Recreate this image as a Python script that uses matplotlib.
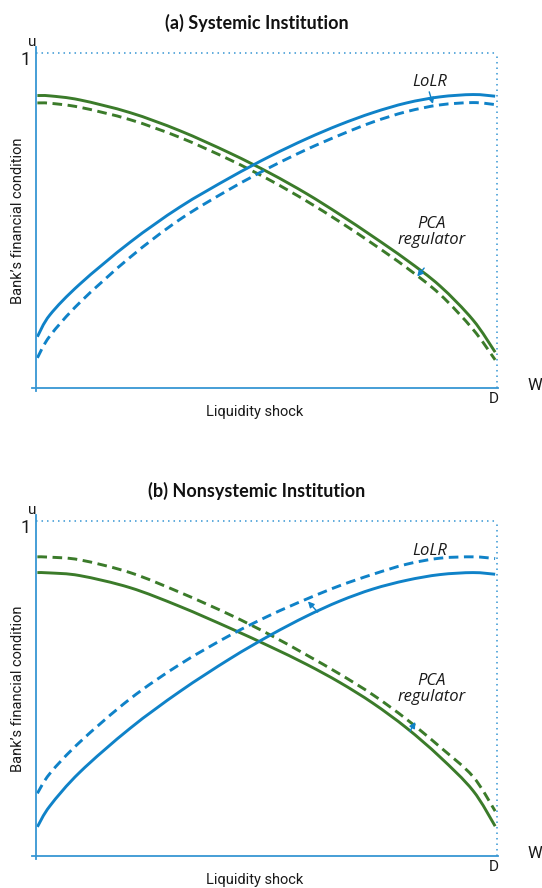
import matplotlib
matplotlib.use("Agg")
import matplotlib.pyplot as plt
from matplotlib.path import Path
from matplotlib.patches import PathPatch

# ---------------- data ----------------
x_pts = [0.003, 0.03, 0.095, 0.204, 0.312, 0.421, 0.508, 0.587, 0.659, 0.731, 0.804, 0.876, 0.948, 0.996]

# (a) Systemic Institution
a_pca_solid  = [0.873, 0.872, 0.860, 0.822, 0.768, 0.701, 0.641, 0.580, 0.518, 0.452, 0.382, 0.305, 0.203, 0.107]
a_pca_dash   = [0.851, 0.850, 0.838, 0.801, 0.748, 0.681, 0.620, 0.558, 0.496, 0.430, 0.359, 0.280, 0.175, 0.084]
a_lolr_solid = [0.153, 0.218, 0.310, 0.435, 0.540, 0.628, 0.692, 0.744, 0.786, 0.822, 0.851, 0.869, 0.876, 0.871]
a_lolr_dash  = [0.090, 0.155, 0.255, 0.390, 0.503, 0.594, 0.659, 0.712, 0.755, 0.794, 0.825, 0.845, 0.852, 0.846]

# (b) Nonsystemic Institution
b_pca_solid  = [0.846, 0.845, 0.837, 0.801, 0.745, 0.680, 0.625, 0.572, 0.518, 0.456, 0.382, 0.296, 0.195, 0.089]
b_pca_dash   = [0.893, 0.892, 0.884, 0.846, 0.787, 0.720, 0.660, 0.600, 0.543, 0.481, 0.408, 0.326, 0.237, 0.134]
b_lolr_solid = [0.087, 0.149, 0.250, 0.381, 0.491, 0.589, 0.659, 0.716, 0.761, 0.797, 0.823, 0.840, 0.846, 0.841]
b_lolr_dash  = [0.187, 0.246, 0.340, 0.469, 0.572, 0.659, 0.719, 0.767, 0.807, 0.841, 0.871, 0.889, 0.893, 0.888]

titles = ["(a) Systemic Institution", "(b) Nonsystemic Institution"]
x_label = "Liquidity shock"
y_label = "Bank\u2019s financial condition"

BLUE = "#0f82c8"
GREEN = "#3b7b2a"
AXBLUE = "#3796d3"
LBL = ["Roboto", "DejaVu Sans"]

W, H = 542, 888
fig = plt.figure(figsize=(W / 100, H / 100), dpi=100)


def make_axes(px_left, px_right, py_top, py_bottom):
    return fig.add_axes([px_left / W, 1 - py_bottom / H,
                         (px_right - px_left) / W, (py_bottom - py_top) / H])


def smooth_curve(ax, xs, ys, **kw):
    """Draw a smooth line (cubic Bezier segments) through the read points."""
    pts = list(zip(xs, ys))
    n = len(pts)
    verts = [pts[0]]
    codes = [Path.MOVETO]
    for i in range(n - 1):
        p0 = pts[i - 1] if i > 0 else pts[i]
        p1 = pts[i]
        p2 = pts[i + 1]
        p3 = pts[i + 2] if i + 2 < n else pts[i + 1]
        c1 = (p1[0] + (p2[0] - p0[0]) / 6, p1[1] + (p2[1] - p0[1]) / 6)
        c2 = (p2[0] - (p3[0] - p1[0]) / 6, p2[1] - (p3[1] - p1[1]) / 6)
        verts += [c1, c2, p2]
        codes += [Path.CURVE4] * 3
    patch = PathPatch(Path(verts, codes), facecolor="none", transform=ax.transData,
                      clip_on=False, **kw)
    ax.add_patch(patch)


panels = [
    dict(ax=make_axes(36, 497, 53, 388), title=titles[0],
         pca=(a_pca_solid, a_pca_dash), lolr=(a_lolr_solid, a_lolr_dash),
         lolr_arrow=((0.853, 0.884), (0.861, 0.848)),
         pca_arrow=((0.842, 0.358), (0.827, 0.333)),
         lolr_text=(0.855, 0.912), pca_text=(0.859, 0.466)),
    dict(ax=make_axes(36, 497, 521, 856), title=titles[1],
         pca=(b_pca_solid, b_pca_dash), lolr=(b_lolr_solid, b_lolr_dash),
         lolr_arrow=((0.611, 0.728), (0.590, 0.760)),
         pca_arrow=((0.811, 0.372), (0.823, 0.400)),
         lolr_text=(0.855, 0.909), pca_text=(0.859, 0.498)),
]

for p in panels:
    ax = p["ax"]
    ax.set_xlim(0, 1)
    ax.set_ylim(0, 1)
    ax.axis("off")

    # axes lines
    ax.plot([0, 0], [-0.008, 1.018], color=AXBLUE, lw=1.3, clip_on=False)
    ax.plot([-0.008, 1.003], [0, 0], color=AXBLUE, lw=1.3, clip_on=False)
    # dotted guides
    ax.plot([0, 1.0], [1, 1], color=AXBLUE, lw=1.1, ls=(0, (1, 2.6)), clip_on=False)
    ax.plot([1.0, 1.0], [0, 1], color=AXBLUE, lw=1.1, ls=(0, (1, 2.6)), clip_on=False)

    s_pca, d_pca = p["pca"]
    s_lolr, d_lolr = p["lolr"]
    smooth_curve(ax, x_pts, s_pca, edgecolor=GREEN, lw=2.1, capstyle="butt")
    smooth_curve(ax, x_pts, d_pca, edgecolor=GREEN, lw=2.1, linestyle=(0, (3.3, 1.9)))
    smooth_curve(ax, x_pts, s_lolr, edgecolor=BLUE, lw=2.1, capstyle="butt")
    smooth_curve(ax, x_pts, d_lolr, edgecolor=BLUE, lw=2.1, linestyle=(0, (3.3, 1.9)))

    for key in ("lolr_arrow", "pca_arrow"):
        (x0, y0), (x1, y1) = p[key]
        ax.annotate("", xy=(x1, y1), xytext=(x0, y0),
                    arrowprops=dict(arrowstyle="-|>,head_length=0.35,head_width=0.18",
                                    color=BLUE, lw=1.0, shrinkA=0, shrinkB=0))

    lx, ly = p["lolr_text"]
    ax.text(lx, ly, "LoLR", fontsize=12, style="italic", family=["Open Sans", "DejaVu Sans"],
            ha="center", va="center", color="#1a1a1a")
    px_, py_ = p["pca_text"]
    ax.text(px_, py_, "PCA\nregulator", fontsize=12, style="italic", family=["Open Sans", "DejaVu Sans"],
            ha="center", va="center", linespacing=1.05, color="#1a1a1a")

    # labels
    ax.text(0.478, 1.09, p["title"], fontsize=13, fontweight="bold",
            family=["Lato", "DejaVu Sans"], ha="center", va="center",
            transform=ax.transAxes, color="#111111")
    ax.text(-0.009, 1.032, "u", fontsize=11, family=LBL, ha="center", va="center", color="#1a1a1a")
    ax.text(-0.023, 0.979, "1", fontsize=13, family=LBL, ha="center", va="center", color="#1a1a1a")
    ax.text(0.993, -0.032, "D", fontsize=11, family=LBL, ha="center", va="center", color="#1a1a1a")
    ax.text(1.082, 0.008, "W", fontsize=12, family=LBL, ha="center", va="center", color="#1a1a1a")
    ax.text(0.475, -0.072, x_label, fontsize=10.5, family=LBL, ha="center", va="center", color="#1a1a1a")
    ax.text(-0.039, 0.5, y_label, fontsize=10.5, family=LBL, rotation=90,
            ha="center", va="center", color="#1a1a1a")

fig.savefig("out.png", dpi=100)
